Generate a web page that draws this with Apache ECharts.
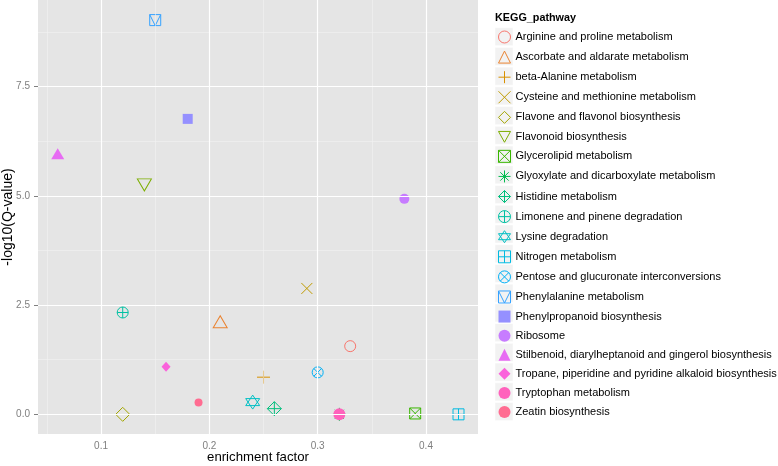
<!DOCTYPE html>
<html><head><meta charset="utf-8">
<script src="https://cdn.jsdelivr.net/npm/echarts@6/dist/echarts.min.js"></script>
<style>html,body{margin:0;padding:0;background:#fff}#c{width:778px;height:466px}</style>
</head><body><div id="c"></div>
<script>
const categories = [
 'Arginine and proline metabolism','Ascorbate and aldarate metabolism','beta-Alanine metabolism',
 'Cysteine and methionine metabolism','Flavone and flavonol biosynthesis','Flavonoid biosynthesis',
 'Glycerolipid metabolism','Glyoxylate and dicarboxylate metabolism','Histidine metabolism',
 'Limonene and pinene degradation','Lysine degradation','Nitrogen metabolism',
 'Pentose and glucuronate interconversions','Phenylalanine metabolism','Phenylpropanoid biosynthesis',
 'Ribosome','Stilbenoid, diarylheptanoid and gingerol biosynthesis',
 'Tropane, piperidine and pyridine alkaloid biosynthesis','Tryptophan metabolism','Zeatin biosynthesis'];
const enrichment = [0.33,0.21,0.25,0.29,0.12,0.14,0.39,0.32,0.26,0.12,0.24,0.43,0.30,0.15,0.18,0.38,0.06,0.16,0.32,0.19];
const negLogQ   = [1.56,2.12,0.85,2.88,0.00,5.25,0.02,0.00,0.13,2.33,0.28,0.00,0.96,9.02,6.76,4.93,5.96,1.09,0.00,0.27];
const xTicks = [0.1,0.2,0.3,0.4];
const yTicks = [0,2.5,5,7.5];
const xMinor = [0.05,0.15,0.25,0.35];
const yMinor = [1.25,3.75,6.25,8.75];

// styles
const colors = ["#F8766D","#EA8331","#D89000","#C09B00","#A3A500","#7CAE00","#39B600","#00BB4E","#00BF7D","#00C1A3",
 "#00BFC4","#00BAE0","#00B0F6","#35A2FF","#9590FF","#C77CFF","#E76BF3","#FA62DB","#FF62BC","#FF6C91"];
const C = 'M0,5A5,5,0,1,1,10,5A5,5,0,1,1,0,5Z';
const shapes = [
 'circle','triangle','path://M0,5L10,5M5,0L5,10','path://M0,0L10,10M10,0L0,10','diamond',
 'path://M0,0L10,0L5,9Z','path://M0,0L10,0L10,10L0,10ZM0,0L10,10M10,0L0,10',
 'path://M0,5L10,5M5,0L5,10M1.5,1.5L8.5,8.5M8.5,1.5L1.5,8.5',
 'path://M5,0L10,5L5,10L0,5ZM0,5L10,5M5,0L5,10',
 'path://'+C+'M0,5L10,5M5,0L5,10',
 'path://M5,0L10,7.5L0,7.5ZM0,2.5L10,2.5L5,10Z',
 'path://M0,0L10,0L10,10L0,10ZM0,5L10,5M5,0L5,10',
 'path://'+C+'M1.46,1.46L8.54,8.54M8.54,1.46L1.46,8.54',
 'path://M0,0L10,0L10,10L0,10ZM0,0L5,10L10,0',
 'rect','circle','triangle','diamond','circle','circle'];
const filled = [0,0,0,0,0,0,0,0,0,0,0,0,0,0,1,1,1,1,1,1];
const sizes = [[11,11],[14,12],[13,13],[11,11],[14,14],[14,12],[11,11],[13,13],[14,14],[11,11],[14,14],[11,11],[11,11],[11,11],[10,10],[10,10],[13,11],[9,10],[12,12],[8,8]];

const FONT = 'Liberation Sans, Arial, Helvetica, sans-serif';
const G = {left:38, top:0, width:440, height:434};
const legendTop = 30.5, itemH = 12, step = 19.73;

const series = [];
// gridlines
series.push({type:'scatter', data:[], z:1, silent:true,
  markLine:{silent:true, symbol:'none', label:{show:false}, animation:false,
    data:[
      ...xMinor.map(v=>({xAxis:v, lineStyle:{color:'#F2F2F2', width:0.6, type:'solid'}})),
      ...yMinor.map(v=>({yAxis:v, lineStyle:{color:'#F2F2F2', width:0.6, type:'solid'}})),
      ...xTicks.map(v=>({xAxis:v, lineStyle:{color:'#FFFFFF', width:1.2, type:'solid'}})),
      ...yTicks.map(v=>({yAxis:v, lineStyle:{color:'#FFFFFF', width:1.2, type:'solid'}}))
    ]}});
categories.forEach((name,i)=>{
  series.push({type:'scatter', name, z:2, symbol:shapes[i], symbolSize:sizes[i],
    data:[[enrichment[i], negLogQ[i]]],
    itemStyle:{color: filled[i]?colors[i]:'rgba(0,0,0,0)', borderColor:colors[i], borderWidth: filled[i]?0:1, opacity:1}});
});

const graphics = categories.map((n,i)=>({type:'rect', z:-1, silent:true,
  shape:{x:495, y:36.7+i*step-9, width:18, height:18},
  style:{fill:'#F2F2F2', stroke:'#fff', lineWidth:0.5}}));

const chart = echarts.init(document.getElementById('c'), null, {renderer:'canvas'});
const opt = {
  animation:false,
  backgroundColor:'#fff',
  textStyle:{fontFamily:FONT},
  title:{text:'KEGG_pathway', left:495, top:12.5, padding:0,
    textStyle:{fontFamily:FONT, fontSize:10.8, fontWeight:'bold', color:'#000'}},
  grid:{left:G.left, top:G.top, width:G.width, height:G.height, show:true, backgroundColor:'#E5E5E5', borderWidth:0,
    containLabel:false, outerBoundsMode:'none'},
  xAxis:{type:'value', min:0.0418, max:0.448, name:'enrichment factor', nameLocation:'middle', nameGap:17, nameMoveOverlap:false,
    nameTextStyle:{fontFamily:FONT, fontSize:13.2, color:'#000'},
    axisLine:{show:false}, splitLine:{show:false},
    axisTick:{show:true, length:4, customValues:xTicks, lineStyle:{color:'#7F7F7F'}},
    axisLabel:{customValues:xTicks, margin:7, color:'#7F7F7F', fontSize:10, fontFamily:FONT, formatter:v=>v.toFixed(1)}},
  yAxis:{type:'value', min:-0.45, max:9.48, name:'-log10(Q-value)', nameLocation:'middle', nameGap:22.5, nameMoveOverlap:false,
    nameTextStyle:{fontFamily:FONT, fontSize:14, color:'#000'},
    axisLine:{show:false}, splitLine:{show:false},
    axisTick:{show:true, length:4, customValues:yTicks, lineStyle:{color:'#7F7F7F'}},
    axisLabel:{customValues:yTicks, margin:8, color:'#7F7F7F', fontSize:10, fontFamily:FONT, formatter:v=>v.toFixed(1)}},
  legend:{orient:'vertical', left:498, top:legendTop, padding:0, itemWidth:12, itemHeight:itemH, itemGap:7.09,
    selectedMode:false, textStyle:{fontFamily:FONT, fontSize:11, color:'#000', padding:0},
    data: categories.map((name,i)=>({name, icon:shapes[i],
      itemStyle:{color: filled[i]?colors[i]:'rgba(0,0,0,0)', borderColor:colors[i], borderWidth: filled[i]?0:1}}))},
  graphic: graphics,
  series
};
chart.setOption(opt);
</script></body></html>
